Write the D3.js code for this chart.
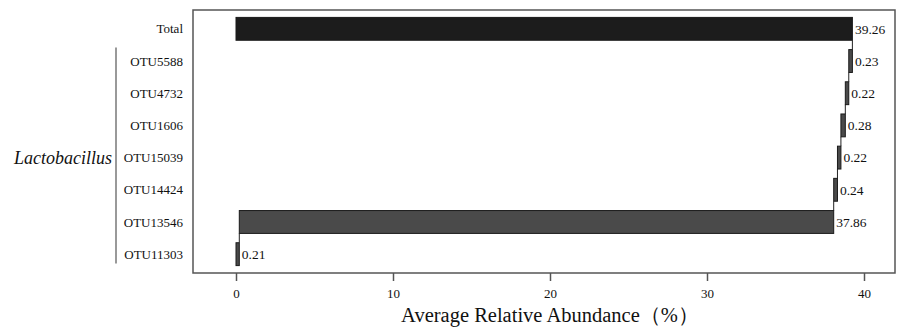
<!DOCTYPE html>
<html><head><meta charset="utf-8">
<script src="https://cdn.jsdelivr.net/npm/d3@7"></script>
<style>body{margin:0;background:#fff}svg{display:block}</style>
</head><body>
<svg id="c" width="898" height="328"></svg>
<script>
const categories = ["Total","OTU5588","OTU4732","OTU1606","OTU15039","OTU14424","OTU13546","OTU11303"];
const values = [39.26,0.23,0.22,0.28,0.22,0.24,37.86,0.21];
const xTicks = [0,10,20,30,40];
const groupLabel = "Lactobacillus";
const xTitle = "Average Relative Abundance（%）";

const svg = d3.select("#c");
const L = 193, R = 895, T = 10, B = 273;
const x = d3.scaleLinear().domain([0,40]).range([236,864]);
const y = d3.scaleBand().domain(categories).range([T,B]).paddingInner(0.29).paddingOuter(0.23);
const serif = "'Liberation Serif','Times New Roman',serif";

// cumulative starts (waterfall from bottom)
const rows = [];
let cum = 0;
for (let i = categories.length-1; i >= 0; i--) {
  if (categories[i] === "Total") rows.push({c:categories[i], v:values[i], s:0, e:values[i]});
  else { rows.push({c:categories[i], v:values[i], s:cum, e:cum+values[i]}); cum += values[i]; }
}

// connectors
const ord = rows.slice(); // bottom to top
for (let i = 0; i < ord.length-1; i++) {
  const a = ord[i], b = ord[i+1];
  const xx = x(a.e);
  svg.append("line").attr("x1",xx).attr("x2",xx)
    .attr("y1",y(b.c)+y.bandwidth()).attr("y2",y(a.c))
    .attr("stroke","#222").attr("stroke-width",1);
}

svg.selectAll("rect.bar").data(rows).join("rect").attr("class","bar")
  .attr("x",d=>x(d.s)).attr("width",d=>Math.max(x(d.e)-x(d.s),2))
  .attr("y",d=>y(d.c)).attr("height",y.bandwidth())
  .attr("fill",d=>d.c==="Total"?"#1c1c1c":"#4a4a4a")
  .attr("stroke","#1a1a1a").attr("stroke-width",1);

svg.selectAll("text.val").data(rows).join("text").attr("class","val")
  .attr("x",d=>x(d.e)+2.5).attr("y",d=>y(d.c)+y.bandwidth()/2)
  .attr("dy","0.35em").attr("font-family",serif).attr("font-size",13.5)
  .attr("fill","#111").text(d=>d.v.toFixed(2));

// box
svg.append("rect").attr("x",L).attr("y",T).attr("width",R-L).attr("height",B-T)
  .attr("fill","none").attr("stroke","#555").attr("stroke-width",1.5);

// x axis
const ax = svg.append("g").attr("transform",`translate(0,${B})`)
  .call(d3.axisBottom(x).tickValues(xTicks).tickSize(8).tickPadding(8).tickFormat(d3.format("d")));
ax.select(".domain").remove();
ax.selectAll("line").attr("stroke","#555").attr("stroke-width",1.5);
ax.selectAll("text").attr("font-family",serif).attr("font-size",13).attr("fill","#111");

svg.append("text").attr("x",550).attr("y",322).attr("text-anchor","middle")
  .attr("font-family",serif).attr("font-size",20.5).attr("fill","#111").text(xTitle);

// y labels
svg.selectAll("text.cat").data(categories).join("text").attr("class","cat")
  .attr("x",183).attr("y",d=>y(d)+y.bandwidth()/2).attr("dy","0.35em")
  .attr("text-anchor","end").attr("font-family",serif).attr("font-size",13)
  .attr("fill","#111").text(d=>d);

// bracket
svg.append("line").attr("x1",116).attr("x2",116)
  .attr("y1",y("OTU5588")-2).attr("y2",y("OTU11303")+y.bandwidth()-2)
  .attr("stroke","#555").attr("stroke-width",1.2);
svg.append("text").attr("x",112).attr("y",y("OTU15039")+y.bandwidth()/2).attr("dy","0.35em")
  .attr("text-anchor","end").attr("font-family",serif).attr("font-style","italic")
  .attr("font-size",18).attr("fill","#111").text(groupLabel);
</script>
</body></html>
